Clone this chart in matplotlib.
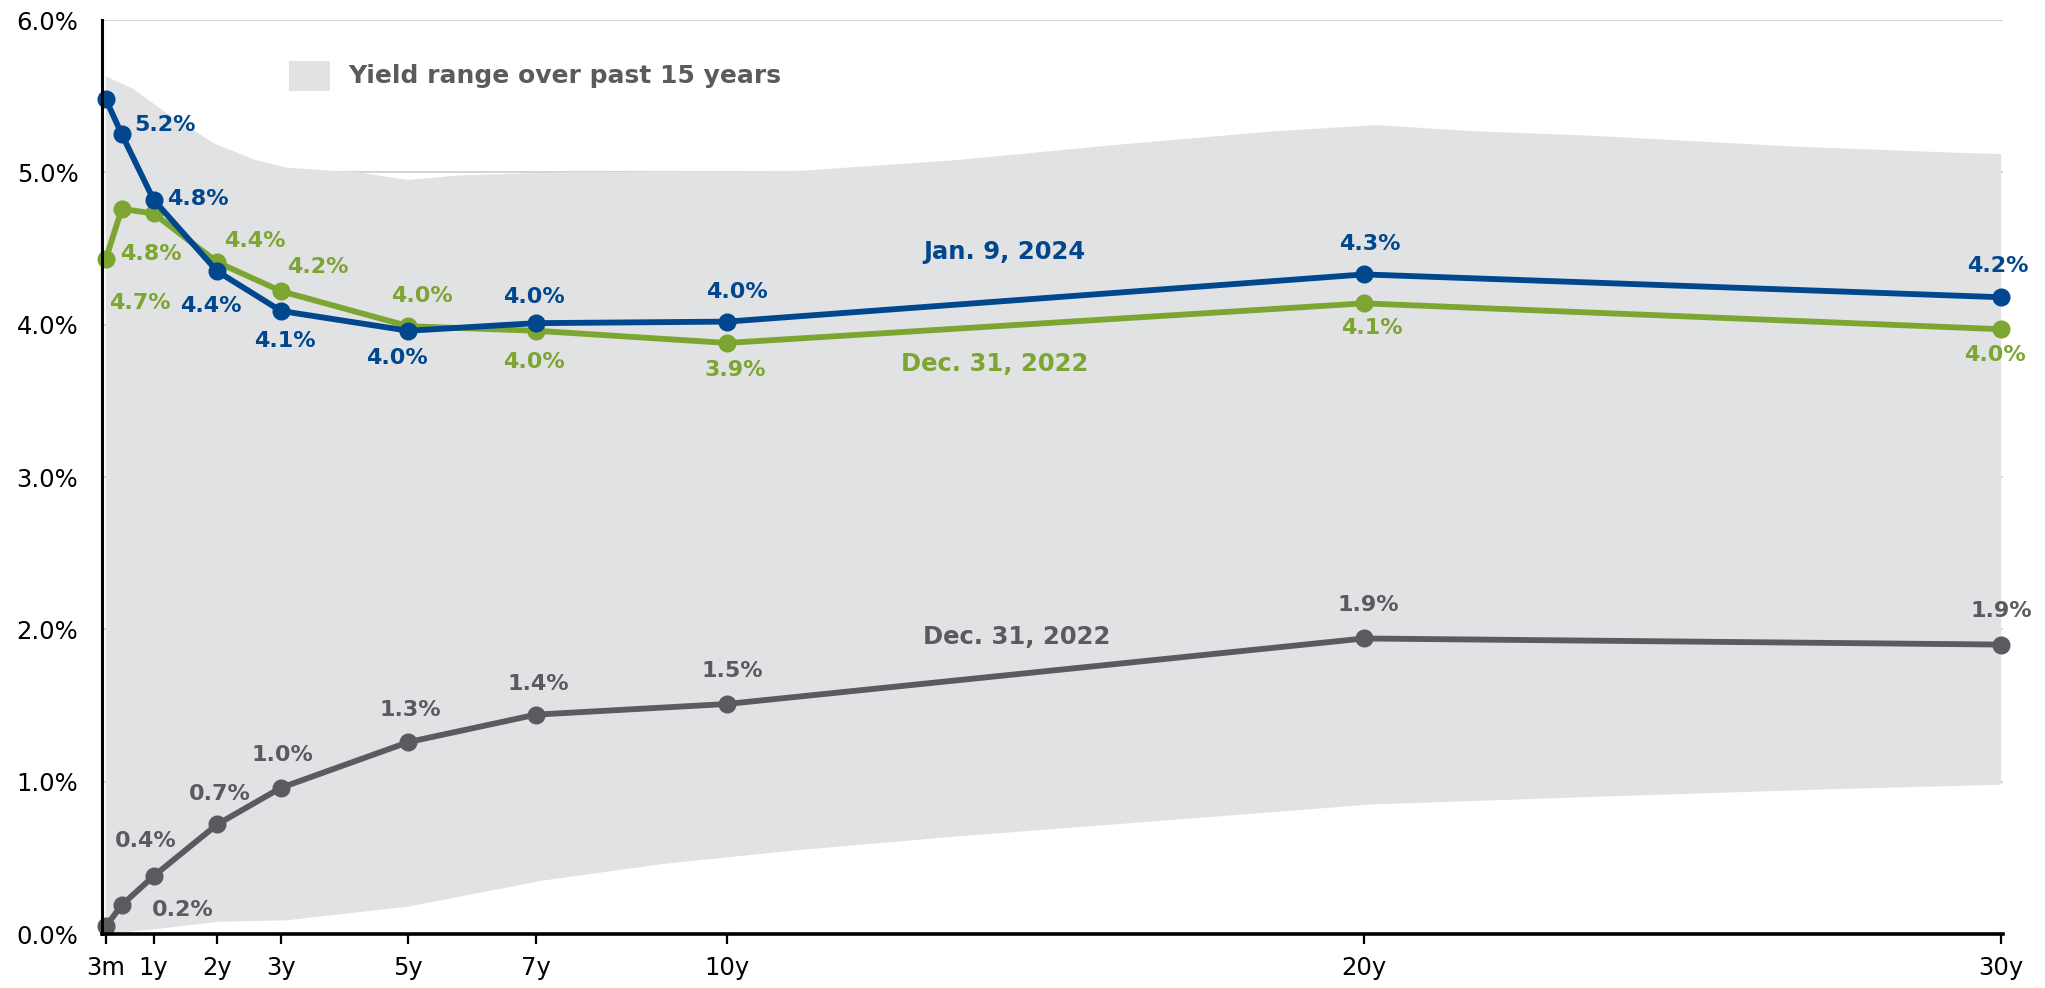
import matplotlib
matplotlib.use("Agg")
import matplotlib.pyplot as plt
import numpy as np
from matplotlib.patches import Rectangle

# ---- data ----
maturity_years = [0.25, 0.5, 1, 2, 3, 5, 7, 10, 20, 30]
tick_years = [0.25, 1, 2, 3, 5, 7, 10, 20, 30]
tick_labels = ["3m", "1y", "2y", "3y", "5y", "7y", "10y", "20y", "30y"]
y_ticks = [0, 1, 2, 3, 4, 5, 6]

jan_2024 = [5.48, 5.25, 4.82, 4.35, 4.09, 3.96, 4.01, 4.02, 4.33, 4.18]
dec_2022_green = [4.43, 4.76, 4.73, 4.41, 4.22, 3.99, 3.96, 3.88, 4.14, 3.97]
dec_2022_gray = [0.05, 0.19, 0.38, 0.72, 0.96, 1.26, 1.44, 1.51, 1.94, 1.90]

jan_labels = [None, "5.2%", "4.8%", "4.4%", "4.1%", "4.0%", "4.0%", "4.0%", "4.3%", "4.2%"]
green_labels = [None, "4.8%", "4.7%", "4.4%", "4.2%", "4.0%", "4.0%", "3.9%", "4.1%", "4.0%"]
gray_labels = [None, "0.2%", "0.4%", "0.7%", "1.0%", "1.3%", "1.4%", "1.5%", "1.9%", "1.9%"]

series_names = ["Jan. 9, 2024", "Dec. 31, 2022", "Dec. 31, 2022"]
legend_label = "Yield range over past 15 years"

band_upper_x = [0.25, 0.67, 1.2, 1.95, 2.6, 3.1, 4.2, 5.0, 5.8, 7.4, 11.15, 13.6, 16.1, 18.6, 20.2, 21.7, 23.6, 26.7, 29.2, 30]
band_upper_y = [5.63, 5.55, 5.39, 5.19, 5.08, 5.03, 5.00, 4.95, 4.98, 5.00, 5.01, 5.08, 5.18, 5.27, 5.31, 5.27, 5.24, 5.17, 5.13, 5.12]
band_lower_x = [0.25, 1.0, 2.0, 3.1, 5.0, 7.1, 9.0, 11.1, 13.6, 16.1, 20.1, 23.6, 27.3, 30]
band_lower_y = [0.00, 0.03, 0.08, 0.09, 0.18, 0.35, 0.46, 0.55, 0.64, 0.72, 0.85, 0.90, 0.95, 0.98]

# ---- style ----
BLUE = "#00478D"
GREEN = "#7DA532"
GRAY = "#595B5E"
BAND = "#E1E2E4"
GRID = "#CCCCCC"
plt.rcParams["font.family"] = ["DejaVu Sans"]

PX = 0.72  # points per pixel at dpi 100

fig = plt.figure(figsize=(20.45, 9.88), dpi=100)
ax = fig.add_axes([102 / 2045, 54 / 988, 1901 / 2045, 914 / 988])
ax.set_xlim(0.19, 30.03)
ax.set_ylim(0, 6.0)

# grid
for yv in y_ticks[1:]:
    ax.axhline(yv, color=GRID, lw=1.2, zorder=0)

# band
bx = np.concatenate([band_upper_x, band_lower_x[::-1]])
by = np.concatenate([band_upper_y, band_lower_y[::-1]])
ax.fill(bx, by, color=BAND, lw=0, zorder=1)

lw = 4.2
ms = 12
ax.plot(maturity_years, dec_2022_gray, color=GRAY, lw=lw, marker="o", ms=ms, zorder=3, clip_on=False)
ax.plot(maturity_years, dec_2022_green, color=GREEN, lw=lw, marker="o", ms=ms, zorder=4, clip_on=False)
ax.plot(maturity_years, jan_2024, color=BLUE, lw=lw, marker="o", ms=ms, zorder=5, clip_on=False)

fs = 16
# label offsets in pixels (dx, dy), dy positive upward
jan_off = [None, (43, 9), (44, 1), (-6, -35), (4, -30), (-11, -27), (-2, 26), (10, 30), (6, 30), (-3, 31)]
green_off = [None, (29, -45), (-14, -90), (38, 21), (37, 24), (14, 30), (-2, -31), (8, -27), (8, -25), (-6, -26)]
gray_off = [None, (61, -5), (-8, 35), (3, 30), (1, 33), (2, 32), (2, 31), (5, 33), (4, 33), (0, 34)]

for vals, labs, offs, col in [(jan_2024, jan_labels, jan_off, BLUE),
                              (dec_2022_green, green_labels, green_off, GREEN),
                              (dec_2022_gray, gray_labels, gray_off, GRAY)]:
    for x, y, lab, off in zip(maturity_years, vals, labs, offs):
        if lab is None:
            continue
        ax.annotate(lab, (x, y), xytext=(off[0] * PX, off[1] * PX), textcoords="offset points",
                    ha="center", va="center", fontsize=fs, fontweight="bold",
                    color=col, zorder=6)

# series names
ax.text(14.36, 4.48, series_names[0], color=BLUE, fontsize=17.5, fontweight="bold", ha="center", va="center", zorder=6)
ax.text(14.2, 3.74, series_names[1], color=GREEN, fontsize=17.5, fontweight="bold", ha="center", va="center", zorder=6)
ax.text(14.55, 1.95, series_names[2], color=GRAY, fontsize=17.5, fontweight="bold", ha="center", va="center", zorder=6)

# legend
ax.add_patch(Rectangle((0.0984, 0.9223), 0.0216, 0.0328, transform=ax.transAxes,
                       facecolor=BAND, edgecolor="none", zorder=6))
ax.text(0.1294, 0.9387, legend_label, transform=ax.transAxes,
        color=GRAY, fontsize=18, fontweight="bold", ha="left", va="center", zorder=6)

# axes styling
for s in ["top", "right"]:
    ax.spines[s].set_visible(False)
ax.spines["left"].set_linewidth(2.2)
ax.spines["bottom"].set_linewidth(2.6)
ax.spines["left"].set_zorder(7)
ax.spines["bottom"].set_zorder(7)

ax.set_xticks(tick_years)
ax.set_xticklabels(tick_labels)
ax.set_yticks(y_ticks)
ax.set_yticklabels([f"{v:.1f}%" for v in y_ticks])
ax.tick_params(axis="x", direction="out", length=7, width=1.6, labelsize=17.5, pad=9, colors="black")
ax.tick_params(axis="y", length=0, labelsize=17.5, pad=17)

fig.savefig("out.png", dpi=100)
